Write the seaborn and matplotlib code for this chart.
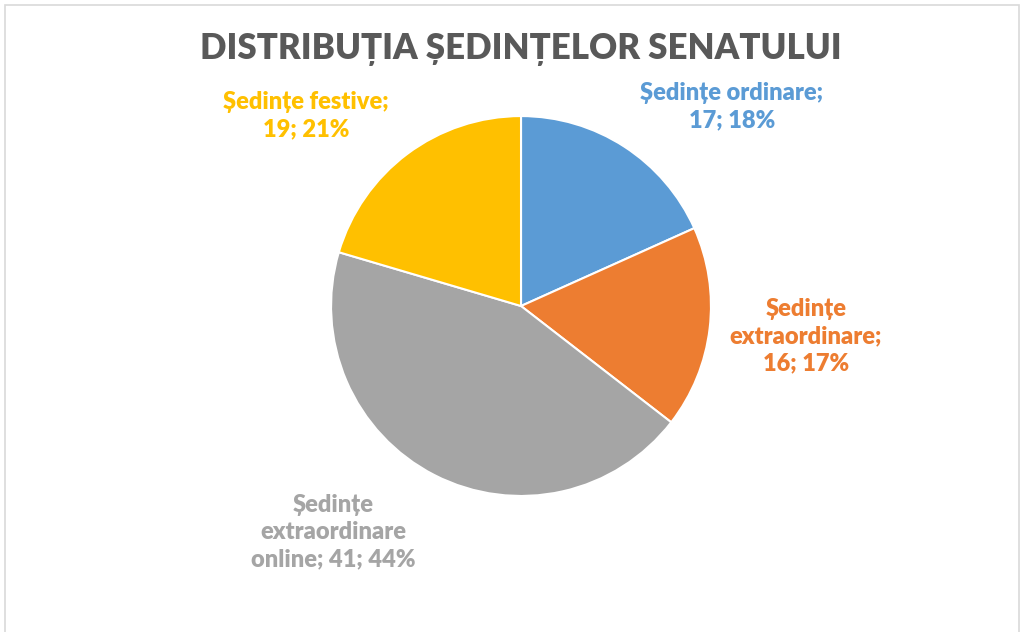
import matplotlib
matplotlib.use("Agg")
import matplotlib.pyplot as plt
import seaborn as sns
from matplotlib.patches import Rectangle

# date
categorii = ["Ședințe ordinare;", "Ședințe\nextraordinare;", "Ședințe\nextraordinare\nonline;", "Ședințe festive;"]
sedinte = [17, 16, 41, 19]
procente = [18, 17, 44, 21]
culori = ["#5B9BD5", "#ED7D31", "#A5A5A5", "#FFC000"]
titlu = "DISTRIBUȚIA ȘEDINȚELOR SENATULUI"

sns.set_theme(style="white")
plt.rcParams["font.family"] = ["Lato", "DejaVu Sans"]

fig = plt.figure(figsize=(10.24, 6.32), dpi=100)
fig.patches.append(Rectangle((0.005, -0.05), 0.99, 1.042, transform=fig.transFigure,
                             fill=False, edgecolor="#D9D9D9", linewidth=1.2))

ax = fig.add_axes([0.5088 - 0.1855, 0.5158 - 0.3006, 0.371, 0.6012])
wedges, _ = ax.pie(sedinte, colors=sns.color_palette(culori), startangle=90, counterclock=False,
                   wedgeprops=dict(edgecolor="white", linewidth=1.5))
ax.set_xlim(-1, 1)
ax.set_ylim(-1, 1)
ax.set_aspect("equal")
ax.axis("off")

# pozitiile etichetelor (unitati ale razei)
poz = [(1.11, 1.05), (1.5, -0.16), (-0.99, -1.19), (-1.13, 1.0)]
for cat, v, p, c, (x, y) in zip(categorii, sedinte, procente, culori, poz):
    if "online" in cat:
        eticheta = f"{cat} {v}; {p}%"
    else:
        eticheta = f"{cat}\n{v}; {p}%"
    ax.text(x, y, eticheta, ha="center", va="center", color=c, fontsize=17,
            fontweight="heavy", linespacing=1.3, clip_on=False)

fig.text(0.5088, 0.921, titlu, ha="center", va="center", fontsize=25,
         fontweight="heavy", color="#595959")

fig.savefig("out.png", dpi=100)
